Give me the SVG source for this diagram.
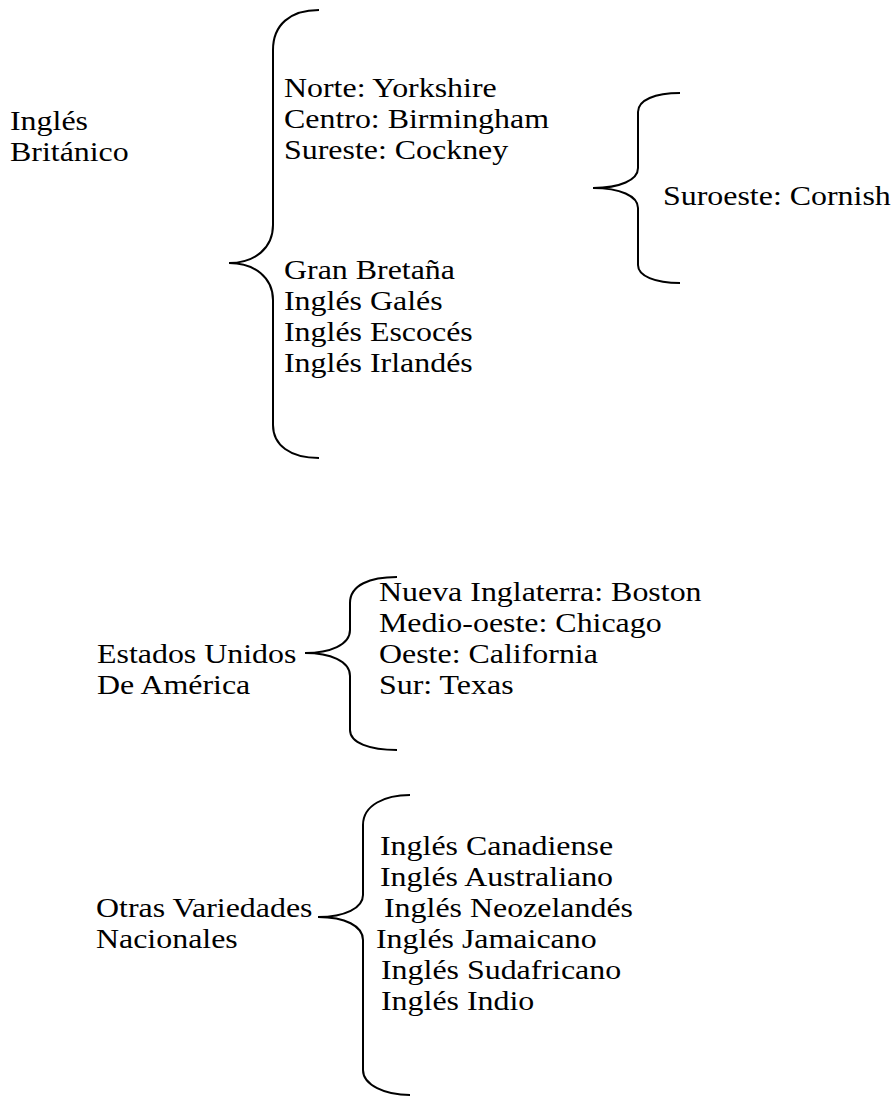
<svg xmlns="http://www.w3.org/2000/svg" width="893" height="1097" viewBox="0 0 893 1097">
<style>
.br{fill:none;stroke:#000;stroke-width:2}
</style>
<rect width="893" height="1097" fill="#fff"/>
<g id="connectors">
<path class="br" d="M319,10 C290,10 273,25 273,50 L273,225 C273,248 255,263 229,263 C255,263 273,278 273,300 L273,425 C273,445 290,458 319,458"/>
<path class="br" d="M680,93 C655,93 638,100 638,112 L638,168 C638,180 620,188 593,188 C620,188 638,196 638,208 L638,265 C638,276 655,283 680,283"/>
<path class="br" d="M397,577 C370,577 350,585 350,603 L350,630 C350,645 330,653 305,653 C330,653 350,661 350,676 L350,730 C350,743 370,750 397,750"/>
<path class="br" d="M410,795 C385,795 363,805 363,825 L363,895 C363,908 345,917 318,917 C345,917 363,926 363,940 L363,1070 C363,1085 385,1095 410,1095"/>
</g>
<g font-family="'Liberation Serif', 'Times New Roman', 'DejaVu Serif', serif" font-size="28" fill="#000" transform="scale(1.14,1)">
<g id="britanico"><text x="8.77" y="130">Inglés</text><text x="8.77" y="161">Británico</text></g>
<g id="regiones-uk"><text x="249.12" y="97">Norte: Yorkshire</text><text x="249.12" y="128">Centro: Birmingham</text><text x="249.12" y="159">Sureste: Cockney</text></g>
<g id="gran-bretana"><text x="249.12" y="279">Gran Bretaña</text><text x="249.12" y="310">Inglés Galés</text><text x="249.12" y="341">Inglés Escocés</text><text x="249.12" y="372">Inglés Irlandés</text></g>
<g id="suroeste"><text x="581.58" y="205">Suroeste: Cornish</text></g>
<g id="eeuu"><text x="85.09" y="663">Estados Unidos</text><text x="85.09" y="694">De América</text></g>
<g id="regiones-eeuu"><text x="332.46" y="601">Nueva Inglaterra: Boston</text><text x="332.46" y="632">Medio-oeste: Chicago</text><text x="332.46" y="663">Oeste: California</text><text x="332.46" y="694">Sur: Texas</text></g>
<g id="otras"><text x="84.21" y="917">Otras Variedades</text><text x="84.21" y="948">Nacionales</text></g>
<g id="variedades"><text x="333.33" y="855">Inglés Canadiense</text><text x="333.33" y="886">Inglés Australiano</text><text x="336.84" y="917">Inglés Neozelandés</text><text x="329.82" y="948">Inglés Jamaicano</text><text x="334.21" y="979">Inglés Sudafricano</text><text x="334.21" y="1010">Inglés Indio</text></g>
</g>
</svg>
